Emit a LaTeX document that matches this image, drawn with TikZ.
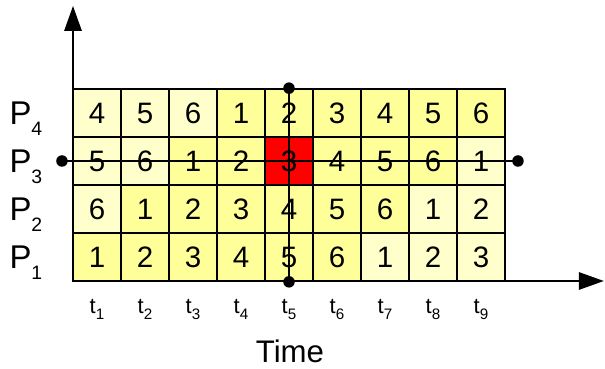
\documentclass[tikz,border=0pt]{standalone}
\usepackage{fontspec}
\setmainfont{Liberation Sans}
\usetikzlibrary{arrows.meta,positioning}
\definecolor{slotdark}{RGB}{255,255,153}
\definecolor{slotlight}{RGB}{255,255,204}
\definecolor{slotred}{RGB}{255,0,0}
\newcommand{\sublbl}[4]{#1\raisebox{#3}{\fontsize{#4}{#4}\selectfont #2}}

\begin{document}
\begin{tikzpicture}[
    >={Triangle[length=5.2mm,width=3.6mm]},
    cell/.style={rectangle, draw=black, line width=1pt, minimum size=1cm,
                 inner sep=0pt, font=\fontsize{17.5}{20}\selectfont},
    axis/.style={->, line width=1.2pt},
    mark line/.style={line width=1.2pt},
    dot/.style={circle, fill=black, inner sep=0pt, minimum size=2.4mm},
    plbl/.style={anchor=base west, inner sep=0pt, font=\fontsize{19.5}{22}\selectfont},
    tlbl/.style={anchor=base, inner sep=0pt, font=\fontsize{13}{15}\selectfont},
  ]
    \useasboundingbox (-1.521,-1.833) rectangle (11.083,5.854);

    % schedule grid
    \foreach \r in {1,...,4}{
      \foreach \c in {1,...,9}{
        \pgfmathtruncatemacro{\n}{mod(\c-\r+6,6)+1}
        \pgfmathtruncatemacro{\isdark}{(\c>=\r)&&(\c<=\r+5)}
        \ifnum\isdark=1 \def\shade{slotdark}\else \def\shade{slotlight}\fi
        \ifnum\r=3 \ifnum\c=5 \def\shade{slotred}\fi\fi
        \node[cell, fill=\shade] (c\r\c) at (\c-0.5,\r-0.5) {\n};
      }
      \node[plbl] (p\r) at (-1.33,\r-0.74) {\sublbl{P}{\r}{-6.5pt}{11.5}};
    }
    \foreach \c in {1,...,9}
      \node[tlbl] (t\c) at (\c-0.5,-0.667) {\sublbl{t}{\c}{-4pt}{9}};
    \node[anchor=base, inner sep=0pt, font=\fontsize{18.5}{21}\selectfont] (time) at (4.52,-1.708) {Time};

    % axes
    \coordinate (orig) at (0,0);
    \coordinate (ytip) at (0,5.73);
    \coordinate (xtip) at (11.06,0);
    \draw[axis] (orig) -- (ytip);
    \draw[axis] (orig) -- (xtip);

    % cross lines through the red slot
    \node[dot] (hl) at (-0.23,2.5) {};
    \node[dot] (hr) at (9.27,2.5) {};
    \node[dot] (vt) at (c45.north) {};
    \node[dot] (vb) at (c15.south) {};
    \draw[mark line] (hl.center) -- (hr.center);
    \draw[mark line] (vt.center) -- (vb.center);
  \end{tikzpicture}
\end{document}
